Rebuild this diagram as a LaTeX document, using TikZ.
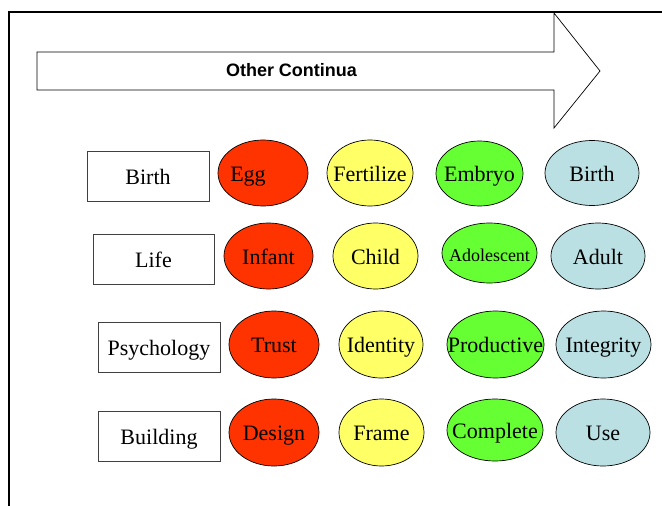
\documentclass[tikz,border=0pt]{standalone}
\usepackage{fontspec}
\setmainfont{Liberation Serif}
\newfontfamily\arialfont{Liberation Sans}
\usetikzlibrary{shapes.geometric}
\definecolor{cred}{HTML}{FF3300}
\definecolor{cyel}{HTML}{FFFF66}
\definecolor{cgrn}{HTML}{66FF33}
\definecolor{cblu}{HTML}{BBE0E3}
\newcommand\ovalnode[7]{%
  \node[oval, fill=#6, minimum width=#4pt, minimum height=#5pt] (#1) at (#2,#3) {\makebox[0pt][c]{#7}};}
\begin{document}
\begin{tikzpicture}[x=1pt,y=-1pt,
  oval/.style={draw=black, line width=0.7pt, ellipse, inner sep=0pt,
    font=\fontsize{22}{24}\selectfont, text height=17.5pt, text depth=1pt},
  lbl/.style={draw=black!75, line width=0.9pt, rectangle, inner sep=0pt,
    minimum width=122pt, minimum height=50pt,
    font=\fontsize{22}{24}\selectfont, text height=18pt, text depth=1pt},
  framestyle/.style={line width=1.6pt, draw=black},
  arrowshape/.style={draw=black, line width=0.7pt, fill=white, line join=miter}]
\useasboundingbox (0,0) rectangle (662,506);
% frame
\coordinate (fbl) at (9,506);
\coordinate (ftl) at (9,12);
\coordinate (ftr) at (662,12);
\draw[framestyle] (fbl) -- (ftl) -- (ftr);
% big arrow
\draw[arrowshape] (37,52) -- (554,52) -- (554,13) -- (600,71) -- (554,128) -- (554,90) -- (37,90) -- cycle;
\node[inner sep=0pt, font=\arialfont\bfseries\fontsize{18}{20}\selectfont] (title) at (291.5,70) {Other Continua};
% row labels
\node[lbl] (lbirth) at (148,176) {Birth};
\node[lbl, minimum width=121pt] (llife) at (153.5,259) {Life};
\node[lbl] (lpsy) at (159,347) {Psychology};
\node[lbl] (lbuild) at (159,436) {Building};
% row 1
\ovalnode{egg}{263}{173}{90}{66}{cred}{Egg\hspace{30pt}}
\ovalnode{fert}{370}{173}{86}{66}{cyel}{Fertilize}
\ovalnode{embryo}{479.5}{173.5}{87}{65}{cgrn}{Embryo}
\ovalnode{birth}{592}{173}{94}{65}{cblu}{Birth}
% row 2
\ovalnode{infant}{268.5}{256}{89}{66}{cred}{Infant}
\ovalnode{child}{375.5}{256}{85}{66}{cyel}{Child}
\ovalnode{adol}{489.5}{253}{95}{60}{cgrn}{\fontsize{18}{20}\selectfont Adolescent}
\ovalnode{adult}{598}{256}{94}{66}{cblu}{Adult}
% row 3
\ovalnode{trust}{274}{344.5}{90}{67}{cred}{Trust}
\ovalnode{ident}{381}{344.5}{84}{67}{cyel}{Identity}
\ovalnode{prod}{495.5}{344.5}{97}{67}{cgrn}{Productive}
\ovalnode{integ}{603.5}{344.5}{95}{67}{cblu}{Integrity}
% row 4
\ovalnode{design}{274}{432.5}{90}{67}{cred}{Design}
\ovalnode{frame}{381.5}{432.5}{85}{67}{cyel}{Frame}
\ovalnode{compl}{495}{430}{96}{62}{cgrn}{Complete}
\ovalnode{use}{603}{432.5}{94}{67}{cblu}{Use}
\end{tikzpicture}
\end{document}
